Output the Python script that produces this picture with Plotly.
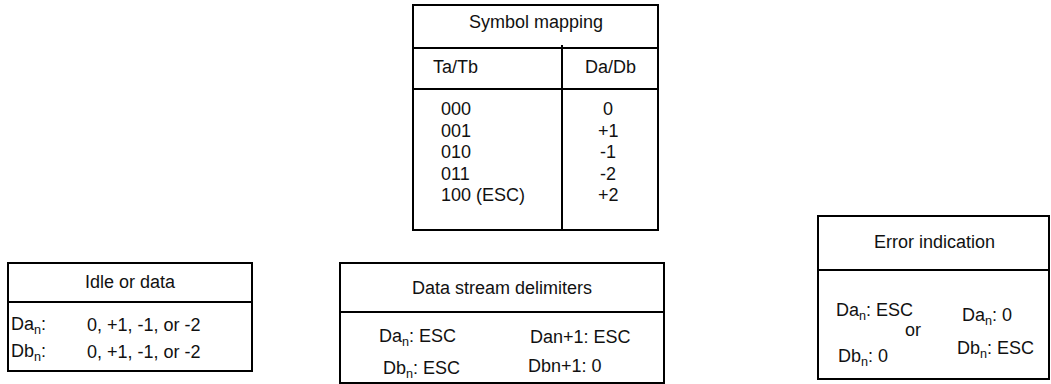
import plotly.graph_objects as go

# ---- data (table contents) ----
symbol_title = "Symbol mapping"
symbol_headers = ["Ta/Tb", "Da/Db"]
symbol_codes = ["000", "001", "010", "011", "100 (ESC)"]
symbol_values = ["0", "+1", "-1", "-2", "+2"]

idle_title = "Idle or data"
idle_labels = ["Da<sub>n</sub>:", "Db<sub>n</sub>:"]
idle_values = ["0, +1, -1, or -2", "0, +1, -1, or -2"]

delim_title = "Data stream delimiters"
delim_left = ["Da<sub>n</sub>: ESC", "Db<sub>n</sub>: ESC"]
delim_right = ["Dan+1: ESC", "Dbn+1: 0"]

error_title = "Error indication"
error_left = ["Da<sub>n</sub>: ESC", "Db<sub>n</sub>: 0"]
error_right = ["Da<sub>n</sub>: 0", "Db<sub>n</sub>: ESC"]
error_sep = "or"

W, H = 1051, 384
FONT = dict(family="Liberation Sans, Arial, Helvetica, sans-serif", size=18, color="#111")
LW = 2

fig = go.Figure()
shapes = []
annots = []


def rect(x0, y0, x1, y1):
    shapes.append(dict(type="rect", x0=x0, y0=y0, x1=x1, y1=y1, xref="x", yref="y",
                       line=dict(color="black", width=LW), fillcolor="rgba(0,0,0,0)"))


def hline(x0, x1, y):
    shapes.append(dict(type="line", x0=x0, x1=x1, y0=y, y1=y, xref="x", yref="y",
                       line=dict(color="black", width=LW)))


def vline(x, y0, y1):
    shapes.append(dict(type="line", x0=x, x1=x, y0=y0, y1=y1, xref="x", yref="y",
                       line=dict(color="black", width=LW)))


def text(x, y, s, anchor="left"):
    annots.append(dict(x=x, y=y, xref="x", yref="y", text=s, showarrow=False,
                       xanchor=anchor, yanchor="middle", font=FONT))


# Symbol mapping table
rect(413, 5, 658, 230)
hline(413, 658, 48)
hline(413, 658, 89)
vline(562, 45, 230)
text(536, 22, symbol_title, "center")
text(431, 67, symbol_headers[0])
text(610, 67, symbol_headers[1], "center")
for i, (c, v) in enumerate(zip(symbol_codes, symbol_values)):
    y = 109 + 21.5 * i
    text(439, y, c)
    text(608, y, v, "center")

# Idle or data
rect(8, 263, 252, 371)
hline(8, 252, 302)
text(130, 282, idle_title, "center")
for i, (lab, val) in enumerate(zip(idle_labels, idle_values)):
    y = 325 + 27 * i
    text(9, y, lab)
    text(85, y, val)

# Data stream delimiters
rect(340, 263, 664, 383)
hline(340, 664, 312)
text(502, 288, delim_title, "center")
text(377, 337, delim_left[0])
text(381, 369, delim_left[1])
text(528, 337, delim_right[0])
text(526, 366, delim_right[1])

# Error indication
rect(818, 216, 1049, 379)
hline(818, 1049, 270)
text(934, 242, error_title, "center")
text(834, 311, error_left[0])
text(836, 357, error_left[1])
text(960, 316, error_right[0])
text(955, 349, error_right[1])
text(913, 330, error_sep, "center")

fig.update_layout(
    width=W, height=H, margin=dict(l=0, r=0, t=0, b=0),
    paper_bgcolor="white", plot_bgcolor="white",
    shapes=shapes, annotations=annots, showlegend=False,
    xaxis=dict(range=[0, W], visible=False, fixedrange=True),
    yaxis=dict(range=[H, 0], visible=False, fixedrange=True),
)
fig.write_html(
    "out.html",
    config={"displayModeBar": False},
    post_script="document.body.style.margin='0';document.body.style.overflow='hidden';",
)
